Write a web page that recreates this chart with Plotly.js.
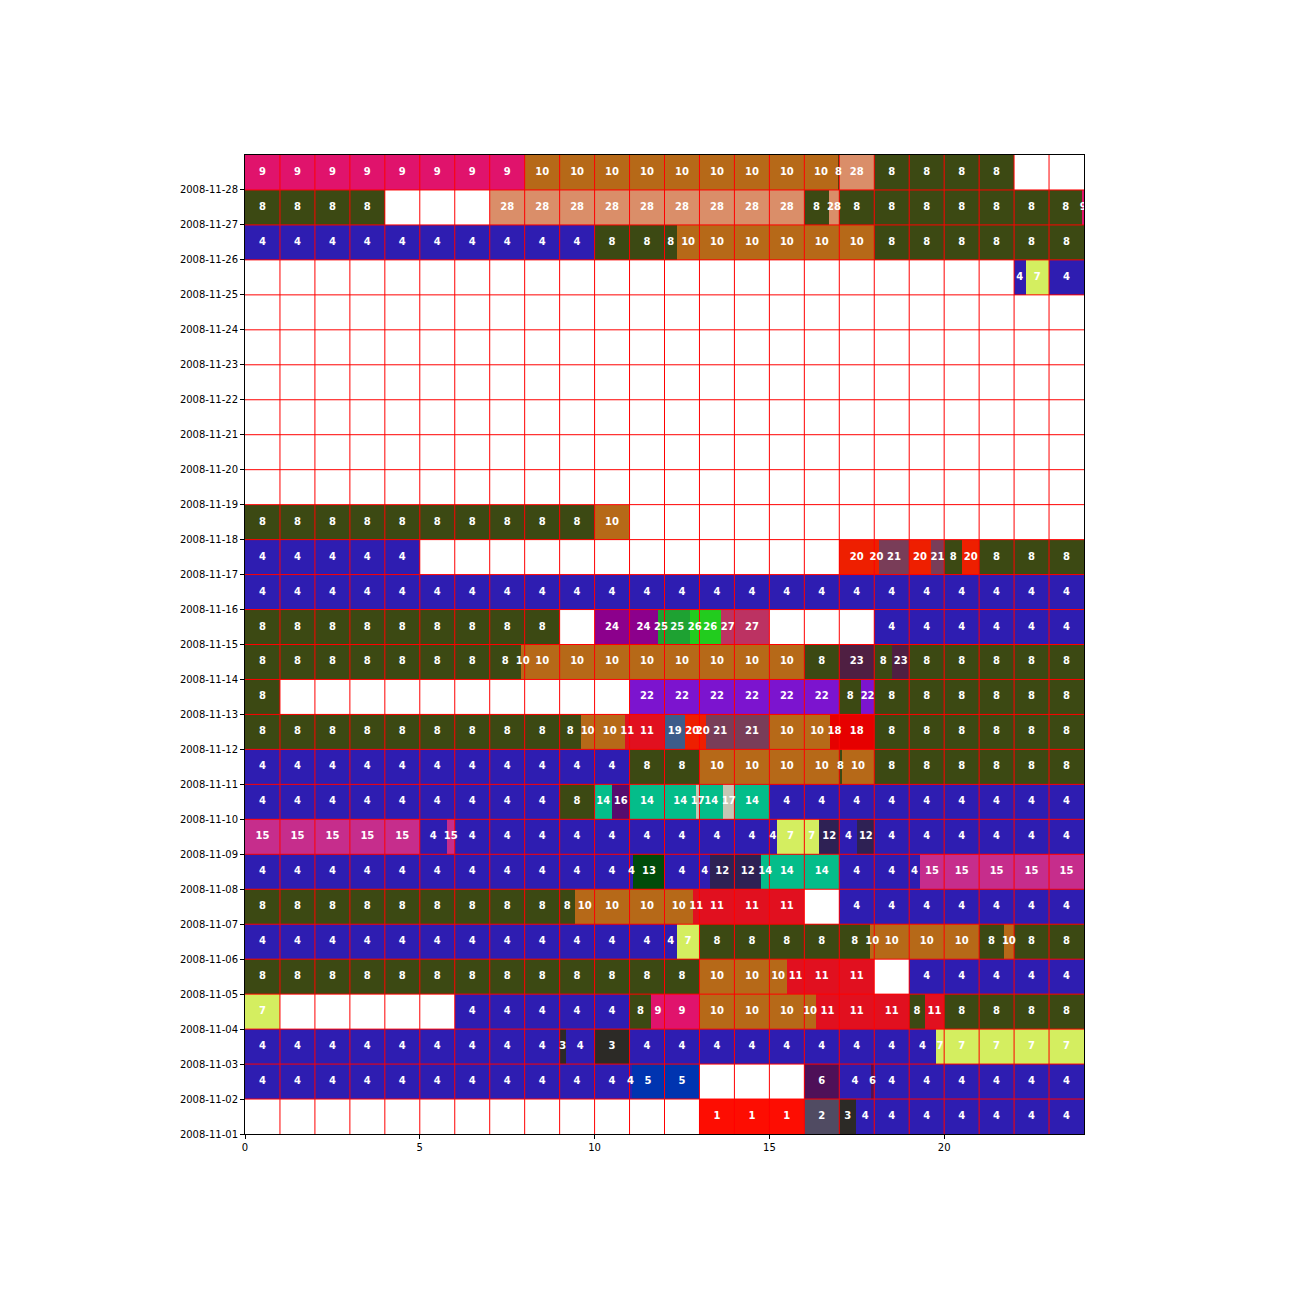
<!DOCTYPE html>
<html>
<head>
<meta charset="utf-8">
<script src="https://cdn.plot.ly/plotly-3.0.1.min.js"></script>
<style>html,body{margin:0;padding:0;background:#fff;}</style>
</head>
<body>
<div id="chart" style="width:1296px;height:1296px;"></div>
<script>
// Each run: [start hour, end hour, cluster id]
const day01 = [[13,16,1],[16,17,2],[17,17.48,3],[17.48,24,4]];
const day02 = [[0,11.06,4],[11.06,13,5],[16,17,6],[17,17.9,4],[17.9,18,6],[18,24,4]];
const day03 = [[0,9,4],[9,9.18,3],[9.18,10,4],[10,11,3],[11,19.76,4],[19.76,24,7]];
const day04 = [[0,1,7],[6,11,4],[11,11.62,8],[11.62,13,9],[13,16.33,10],[16.33,19,11],[19,19.45,8],[19.45,20,11],[20,24,8]];
const day05 = [[0,13,8],[13,15.5,10],[15.5,18,11],[19,24,4]];
const day06 = [[0,12.35,4],[12.35,13,7],[13,17.88,8],[17.88,21,10],[21,21.7,8],[21.7,22,10],[22,24,8]];
const day07 = [[0,9.44,8],[9.44,12.81,10],[12.81,16,11],[17,24,4]];
const day08 = [[0,11.11,4],[11.11,12,13],[12,13.3,4],[13.3,14.76,12],[14.76,17,14],[17,19.3,4],[19.3,24,15]];
const day09 = [[0,5,15],[5,5.77,4],[5.77,6,15],[6,15.21,4],[15.21,16.42,7],[16.42,17,12],[17,17.52,4],[17.52,18,12],[18,24,4]];
const day10 = [[0,9,4],[9,10,8],[10,10.5,14],[10.5,11,16],[11,12.9,14],[12.9,13,17],[13,13.67,14],[13.67,14,17],[14,15,14],[15,24,4]];
const day11 = [[0,11,4],[11,13,8],[13,17,10],[17,17.07,8],[17.07,18,10],[18,24,8]];
const day12 = [[0,9.6,8],[9.6,10.87,10],[10.87,12,11],[12,12.59,19],[12.59,13.19,20],[13.19,15,21],[15,16.73,10],[16.73,18,18],[18,24,8]];
const day13 = [[0,1,8],[11,17,22],[17,17.62,8],[17.62,18,22],[18,24,8]];
const day14 = [[0,7.89,8],[7.89,16,10],[16,17,8],[17,18,23],[18,18.52,8],[18.52,19,23],[19,24,8]];
const day15 = [[0,9,8],[10,11.8,24],[11.8,12.73,25],[12.73,13.62,26],[13.62,15,27],[18,24,4]];
const day16 = [[0,24,4]];
const day17 = [[0,5,4],[17,18.13,20],[18.13,19,21],[19,19.62,20],[19.62,20,21],[20,20.52,8],[20.52,21,20],[21,24,8]];
const day18 = [[0,10,8],[10,11,10]];
const day25 = [[22,22.33,4],[22.33,23,7],[23,24,4]];
const day26 = [[0,10,4],[10,12.35,8],[12.35,18,10],[18,24,8]];
const day27 = [[0,4,8],[7,16,28],[16,16.7,8],[16.7,17,28],[17,23.95,8],[23.95,24,9]];
const day28 = [[0,8,9],[8,16.95,10],[16.95,17,8],[17,18,28],[18,22,8]];

const dayRuns = [[1,day01],[2,day02],[3,day03],[4,day04],[5,day05],[6,day06],[7,day07],[8,day08],[9,day09],[10,day10],[11,day11],[12,day12],[13,day13],[14,day14],[15,day15],[16,day16],[17,day17],[18,day18],[25,day25],[26,day26],[27,day27],[28,day28]];

const dayTicks = [1,2,3,4,5,6,7,8,9,10,11,12,13,14,15,16,17,18,19,20,21,22,23,24,25,26,27,28];
const dayLabels = ['2008-11-01','2008-11-02','2008-11-03','2008-11-04','2008-11-05','2008-11-06','2008-11-07','2008-11-08','2008-11-09','2008-11-10','2008-11-11','2008-11-12','2008-11-13','2008-11-14','2008-11-15','2008-11-16','2008-11-17','2008-11-18','2008-11-19','2008-11-20','2008-11-21','2008-11-22','2008-11-23','2008-11-24','2008-11-25','2008-11-26','2008-11-27','2008-11-28'];
const hourTicks = [0,5,10,15,20];

// styles
const clusterColors = {
  1:'#fd0d02', 2:'#504b62', 3:'#2c2a26', 4:'#2e1db1', 5:'#0034b0', 6:'#4e1058', 7:'#d4ee60',
  8:'#3c4913', 9:'#e0136c', 10:'#b66918', 11:'#e1101f', 12:'#2e2154', 13:'#004b0a', 14:'#04bd8a',
  15:'#c62d8c', 16:'#560c6e', 17:'#c4c7b5', 18:'#e60000', 19:'#3d5c8a', 20:'#ee1f00', 21:'#793d58',
  22:'#7c14cf', 23:'#4f1f42', 24:'#8c008c', 25:'#1ea232', 26:'#22cc1e', 27:'#bc3262', 28:'#da8e69'
};

const barX=[], barBase=[], barY=[], barColor=[], txtX=[], txtY=[], txtS=[];
dayRuns.forEach(([d, runs]) => {
  runs.forEach(([s, e, c]) => {
    let a = s;
    while (a < e - 1e-9) {
      const b = Math.min(e, Math.floor(a + 1e-9) + 1);
      barBase.push(a); barX.push(b - a); barY.push(d + 0.5); barColor.push(clusterColors[c]);
      txtX.push((a + b) / 2); txtY.push(d + 0.5); txtS.push(String(c));
      a = b;
    }
  });
});

// red grid (one line per hour and per day), drawn above the bars but below the labels
const gridX = [], gridY = [];
for (let h = 1; h < 24; h++) { gridX.push(h, h, null); gridY.push(1, 29, null); }
for (let d = 2; d <= 28; d++) { gridX.push(0, 24, null); gridY.push(d, d, null); }

const traces = [
  {type:'bar', orientation:'h', x:barX, base:barBase, y:barY, width:1,
   marker:{color:barColor, line:{width:0}}, hoverinfo:'skip'},
  {type:'scatter', mode:'lines', x:gridX, y:gridY, line:{color:'#ff0000', width:1}, hoverinfo:'skip', connectgaps:false},
  {type:'scatter', mode:'text', x:txtX, y:txtY, text:txtS,
   textfont:{family:'DejaVu Sans', size:10, color:'#ffffff', weight:'bold'}, hoverinfo:'skip', cliponaxis:false}
];

const layout = {
  width:1296, height:1296,
  margin:{l:245, r:212, t:155, b:162, pad:0},
  paper_bgcolor:'#ffffff', plot_bgcolor:'#ffffff',
  showlegend:false,
  font:{family:'DejaVu Sans', size:10, color:'#000000'},
  bargap:0,
  xaxis:{range:[0,24], tickvals:hourTicks, ticktext:hourTicks.map(String), ticks:'outside', ticklen:4, tickcolor:'#000',
         showgrid:false, zeroline:false, showline:true, mirror:true, linecolor:'#000', linewidth:1, fixedrange:true,
         tickfont:{size:10}},
  yaxis:{range:[1,29], tickvals:dayTicks, ticktext:dayLabels, ticks:'outside', ticklen:4, tickcolor:'#000',
         showgrid:false, zeroline:false, showline:true, mirror:true, linecolor:'#000', linewidth:1, fixedrange:true,
         tickfont:{size:10}}
};

Plotly.newPlot('chart', traces, layout, {displayModeBar:false, staticPlot:true});
</script>
</body>
</html>
